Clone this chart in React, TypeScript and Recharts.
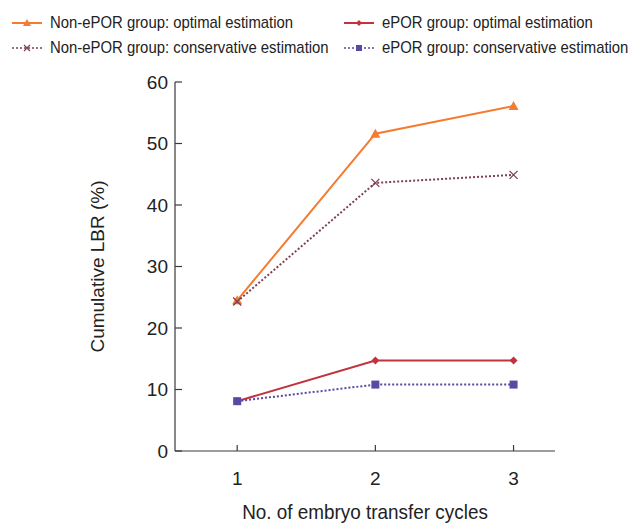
import { LineChart, Line, XAxis, YAxis } from 'recharts'

const cycles = [1, 2, 3]
const nonEporOptimal = [24.5, 51.6, 56.1]
const nonEporConservative = [24.3, 43.6, 44.9]
const eporOptimal = [8.1, 14.7, 14.7]
const eporConservative = [8.1, 10.8, 10.8]
const yTicks = [0, 10, 20, 30, 40, 50, 60]

const data = cycles.map((c, i) => ({
  cycle: c,
  nonOpt: nonEporOptimal[i],
  nonCons: nonEporConservative[i],
  epOpt: eporOptimal[i],
  epCons: eporConservative[i],
}))

const FONT = '"Liberation Sans", Arial, sans-serif'
const AXIS = '#3a3a3a'
const TEXT = '#222'
const ORANGE = '#f47b30'
const MAROON = '#7e4052'
const CRIMSON = '#c2323f'
const PURPLE = '#5a48a2'

function Triangle({ cx, cy }: any) {
  return <path d={`M${cx},${cy - 5} L${cx + 5},${cy + 4} L${cx - 5},${cy + 4} Z`} fill={ORANGE} />
}
function Cross({ cx, cy }: any) {
  return (
    <path d={`M${cx - 4},${cy - 4} L${cx + 4},${cy + 4} M${cx - 4},${cy + 4} L${cx + 4},${cy - 4}`} stroke={MAROON} strokeWidth={1.3} />
  )
}
function Diamond({ cx, cy }: any) {
  return <path d={`M${cx},${cy - 4} L${cx + 4},${cy} L${cx},${cy + 4} L${cx - 4},${cy} Z`} fill={CRIMSON} />
}
function Square({ cx, cy }: any) {
  return <rect x={cx - 4} y={cy - 4} width={8} height={8} fill={PURPLE} />
}

// ticks point inward, so draw them by hand next to the labels
function YTick({ x, y, payload }: any) {
  return (
    <g>
      <line x1={x + 7} x2={x + 14} y1={y} y2={y} stroke={AXIS} strokeWidth={1.2} />
      <text x={x} y={y} textAnchor="end" dominantBaseline="central" fontSize={19} fill={TEXT} fontFamily={FONT}>
        {payload.value}
      </text>
    </g>
  )
}
function XTick({ x, y, payload }: any) {
  return (
    <g>
      <line x1={x} x2={x} y1={y - 27} y2={y - 33} stroke={AXIS} strokeWidth={1.2} />
      <text x={x} y={y} textAnchor="middle" dominantBaseline="central" fontSize={19} fill={TEXT} fontFamily={FONT}>
        {payload.value}
      </text>
    </g>
  )
}

function XLabel({ viewBox }: any) {
  const cx = viewBox.x + viewBox.width / 2
  const cy = viewBox.y + viewBox.height - 13
  return (
    <text
      transform={`translate(${cx},${cy}) scale(0.9,1)`}
      textAnchor="middle"
      dominantBaseline="central"
      fontSize={21}
      fill={TEXT}
      fontFamily={FONT}
    >
      No. of embryo transfer cycles
    </text>
  )
}

const legendItems = [
  { label: 'Non-ePOR group: optimal estimation', color: ORANGE, dash: undefined, marker: 'tri', left: 12, top: 23 },
  { label: 'ePOR group: optimal estimation', color: CRIMSON, dash: undefined, marker: 'dia', left: 344, top: 23 },
  { label: 'Non-ePOR group: conservative estimation', color: MAROON, dash: '2 2', marker: 'x', left: 12, top: 48 },
  { label: 'ePOR group: conservative estimation', color: PURPLE, dash: '2 2', marker: 'sq', left: 344, top: 48 },
]

function LegendIcon({ color, dash, marker }: any) {
  return (
    <svg width={31} height={12} style={{ display: 'block' }}>
      <line x1={0} x2={30} y1={6} y2={6} stroke={color} strokeWidth={dash ? 1.5 : 2} strokeDasharray={dash} />
      {marker === 'tri' && <path d="M15,2 L19,9 L11,9 Z" fill={color} />}
      {marker === 'dia' && <path d="M15,3 L18,6 L15,9 L12,6 Z" fill={color} />}
      {marker === 'x' && <path d="M12,3 L18,9 M12,9 L18,3" stroke={color} strokeWidth={1.2} />}
      {marker === 'sq' && <rect x={12} y={3} width={6} height={6} fill={color} />}
    </svg>
  )
}

export default function App() {
  return (
    <div style={{ position: 'absolute', left: 0, top: 0, width: 633, height: 525, background: '#fff', fontFamily: FONT }}>
      {legendItems.map((it) => (
        <div
          key={it.label}
          style={{ position: 'absolute', left: it.left, top: it.top - 10, height: 20, display: 'flex', alignItems: 'center', whiteSpace: 'nowrap' }}
        >
          <LegendIcon color={it.color} dash={it.dash} marker={it.marker} />
          <span style={{ marginLeft: 7, fontSize: 17, color: TEXT, display: 'inline-block', transform: 'scaleX(0.875)', transformOrigin: 'left center' }}>
            {it.label}
          </span>
        </div>
      ))}
      <LineChart width={633} height={525} data={data} margin={{ top: 82, right: 78, bottom: 0, left: 115 }}>
        <XAxis
          dataKey="cycle"
          type="number"
          domain={[0.55, 3.3]}
          ticks={cycles}
          allowDataOverflow
          height={74}
          stroke={AXIS}
          strokeWidth={1.2}
          tickLine={false}
          tickSize={0}
          tickMargin={27}
          tick={<XTick />}
          label={<XLabel />}
        />
        <YAxis
          domain={[0, 60]}
          ticks={yTicks}
          width={60}
          stroke={AXIS}
          strokeWidth={1.2}
          tickLine={false}
          tickSize={0}
          tickMargin={7}
          tick={<YTick />}
          label={{ value: 'Cumulative LBR (%)', angle: -90, position: 'center', dx: -48, fontSize: 19, fill: TEXT, fontFamily: FONT }}
        />
        <Line dataKey="nonOpt" stroke={ORANGE} strokeWidth={2} dot={<Triangle />} isAnimationActive={false} />
        <Line dataKey="nonCons" stroke={MAROON} strokeWidth={2} strokeDasharray="2 2" dot={<Cross />} isAnimationActive={false} />
        <Line dataKey="epOpt" stroke={CRIMSON} strokeWidth={2} dot={<Diamond />} isAnimationActive={false} />
        <Line dataKey="epCons" stroke={PURPLE} strokeWidth={2} strokeDasharray="2 2" dot={<Square />} isAnimationActive={false} />
      </LineChart>
    </div>
  )
}
